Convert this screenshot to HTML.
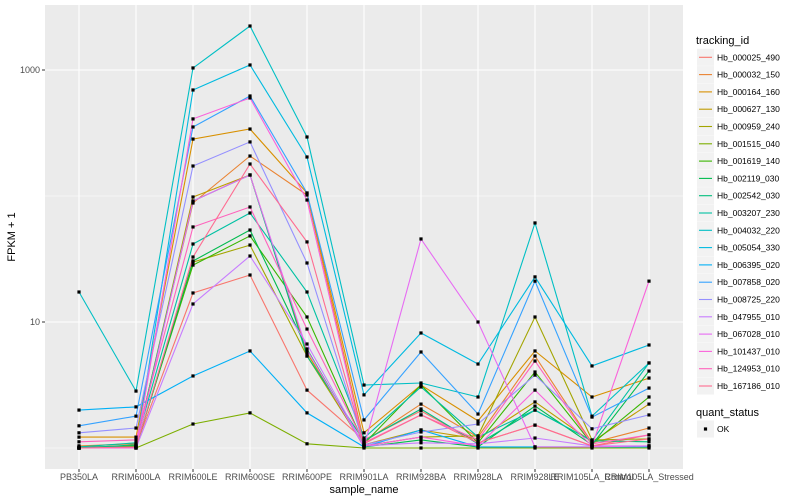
<!DOCTYPE html>
<html><head><meta charset="utf-8"><style>
body{margin:0;background:#fff;}
svg{display:block;font-family:"Liberation Sans",sans-serif;}
</style></head><body>
<svg id="chart" width="800" height="500" viewBox="0 0 800 500">
<rect x="45" y="5" width="638" height="464" fill="#ebebeb"/>
<g id="grid"></g><g id="lines"></g><g id="pts"></g><g id="axes"></g><g id="legend"></g>
</svg>
<script>
const categories=["PB350LA","RRIM600LA","RRIM600LE","RRIM600SE","RRIM600PE","RRIM901LA","RRIM928BA","RRIM928LA","RRIM928LE","RRIM105LA_Control","RRIM105LA_Stressed"];
const seriesNames=["Hb_000025_490","Hb_000032_150","Hb_000164_160","Hb_000627_130","Hb_000959_240","Hb_001515_040","Hb_001619_140","Hb_002119_030","Hb_002542_030","Hb_003207_230","Hb_004032_220","Hb_005054_330","Hb_006395_020","Hb_007858_020","Hb_008725_220","Hb_047955_010","Hb_067028_010","Hb_101437_010","Hb_124953_010","Hb_167186_010"];
const seriesColors=["#F8766D","#EA8331","#D89000","#C09B00","#A3A500","#7CAE00","#39B600","#00BB4E","#00BF7D","#00C1A3","#00BFC4","#00BAE0","#00B0F6","#35A2FF","#9590FF","#C77CFF","#E76BF3","#FA62DB","#FF62BC","#FF6C91"];
// FPKM values (plotted as FPKM + 1)
const s0=[0.02,0.04,16,22.6,1.88,0.16,0.97,0.1,0.52,0.04,0.27];
const s1=[0.04,0.08,87,206.6,100.9,0.12,1.23,0.22,4.37,0.1,0.44];
const s2=[0.22,0.22,282,339,104.6,0.32,2.16,0.64,4.89,1.54,2.59];
const s3=[0,0.04,97.2,145.8,4.68,0.06,0.39,0.18,1.32,0.12,1.23];
const s4=[0,0.02,28.9,39.8,4.37,0.04,0.22,0.25,9.96,0.16,0.18];
const s5=[0,0,0.55,0.9,0.08,0,0,0,0,0,0];
const s6=[0,0.04,27.3,47.2,9.96,0.08,2.16,0.1,3.01,0.08,1.54];
const s7=[0,0.02,29.5,52.7,5.11,0.02,0.16,0.02,1.15,0.06,3.08];
const s8=[0,0.06,90.2,145.8,4.37,0.14,1.04,0.08,1.0,0.14,0.12];
const s9=[0.02,0.1,40.6,72.3,16.3,0.2,2.05,0.22,1.0,0.14,3.73];
const s10=[16.3,1.83,1037,2233,293,2.16,2.28,1.54,60.1,0.79,3.73];
const s11=[0,0.02,693,1095,203,1.64,7.18,3.64,21.8,3.48,5.57];
const s12=[1.0,1.12,2.73,4.89,0.9,0.02,0.39,0.02,0.02,0.02,0.02];
const s13=[0.5,0.79,352,621,104.6,0.67,4.78,0.86,20.1,0.76,1.99];
const s14=[0.32,0.44,172,267.6,28.4,0.06,0.34,0.55,2.79,0.42,0.83];
const s15=[0,0,12.9,32.4,5.69,0.04,0.1,0.08,0.2,0.04,0.04];
const s16=[0,0,90.2,145.8,5.0,0.02,44.6,9.0,0.02,0.02,0.04];
const s17=[0,0,408,599,91.9,0.04,0.22,0.04,1.88,0.04,20.1];
const s18=[0.12,0.16,55.8,80.8,7.79,0.1,0.83,0.16,3.9,0.08,0.27];
const s19=[0,0.02,31.8,178.5,42.2,0.08,0.83,0.1,0.52,0.04,0.18];
const seriesValues=[s0,s1,s2,s3,s4,s5,s6,s7,s8,s9,s10,s11,s12,s13,s14,s15,s16,s17,s18,s19];
const yTickValues=[10,1000];
const yTickLabels=["10","1000"];
const yMinorValues=[1,100];

const NS="http://www.w3.org/2000/svg";
function xPos(i){return 79+i*57;}
function yPos(v){return 322-(Math.log10(v)-1)*126;}
function mk(tag,attrs,parent){const e=document.createElementNS(NS,tag);for(const k in attrs)e.setAttribute(k,attrs[k]);parent.appendChild(e);return e;}
const grid=document.getElementById('grid'),lines=document.getElementById('lines'),pts=document.getElementById('pts'),axes=document.getElementById('axes'),legend=document.getElementById('legend');

yMinorValues.forEach(v=>{const l=mk('line',{x1:45,x2:683,y1:yPos(v),y2:yPos(v),stroke:'#fff','stroke-width':0.6},grid);

});
yTickValues.forEach((v,i)=>{const y=yPos(v);
const l=mk('line',{x1:45,x2:683,y1:y,y2:y,stroke:'#fff','stroke-width':1.1},grid);


const t=mk('line',{x1:42,x2:45,y1:y,y2:y,stroke:'#333','stroke-width':1},axes);


const tx=mk('text',{x:40,y:y+3,'text-anchor':'end','font-size':9,fill:'#4d4d4d'},axes);tx.textContent=yTickLabels[i];

});
categories.forEach((c,i)=>{const x=xPos(i);
const l=mk('line',{x1:x,x2:x,y1:5,y2:469,stroke:'#fff','stroke-width':1.1},grid);


const t=mk('line',{x1:x,x2:x,y1:469,y2:472,stroke:'#333','stroke-width':1},axes);


const tx=mk('text',{x:x,y:480,'text-anchor':'middle','font-size':9,fill:'#4d4d4d'},axes);tx.textContent=c;

});

seriesValues.forEach((vals,s)=>{
const d=vals.map((v,i)=>(i?'L':'M')+xPos(i).toFixed(1)+','+yPos(v+1).toFixed(1)).join('');
const p=mk('path',{d:d,fill:'none',stroke:seriesColors[s],'stroke-width':1.1},lines);


vals.forEach((v,i)=>{const c=mk('rect',{x:xPos(i)-1.6,y:yPos(v+1)-1.6,width:3.2,height:3.2,fill:'#000'},pts);

});
});

const xt=mk('text',{x:364,y:493,'text-anchor':'middle','font-size':11,fill:'#000'},axes);xt.textContent='sample_name';


const yt=mk('text',{x:15,y:237,'text-anchor':'middle','font-size':11,fill:'#000',transform:'rotate(-90 15 237)'},axes);yt.textContent='FPKM + 1';



const lt=mk('text',{x:696,y:44,'font-size':11,fill:'#000'},legend);lt.textContent='tracking_id';


seriesNames.forEach((n,i)=>{const cy=57.3+i*17.3;
const g=mk('g',{},legend);


mk('rect',{x:697,y:cy-8.5,width:17,height:17,fill:'#f2f2f2'},g);
mk('line',{x1:699,x2:712,y1:cy,y2:cy,stroke:seriesColors[i],'stroke-width':1.1},g);
const t=mk('text',{x:717,y:cy+3,'font-size':8.5,fill:'#000'},g);t.textContent=n;});
const qt=mk('text',{x:696,y:416,'font-size':11,fill:'#000'},legend);qt.textContent='quant_status';


const qg=mk('g',{},legend);


mk('rect',{x:697,y:420.5,width:17,height:17,fill:'#f2f2f2'},qg);
mk('rect',{x:703.9,y:427.4,width:3.2,height:3.2,fill:'#000'},qg);
const qx=mk('text',{x:717,y:432,'font-size':8.5,fill:'#000'},qg);qx.textContent='OK';
</script>
</body></html>
